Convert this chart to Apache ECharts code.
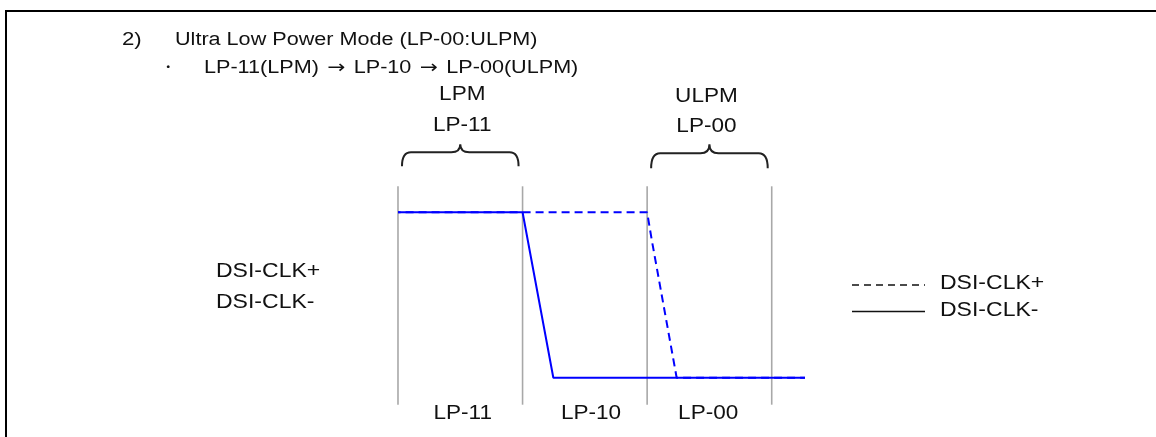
<!DOCTYPE html>
<html>
<head>
<meta charset="utf-8">
<script src="https://cdn.jsdelivr.net/npm/echarts@6/dist/echarts.min.js"></script>
<style>html,body{margin:0;padding:0;background:#fff}#c{width:1156px;height:437px}</style>
</head>
<body>
<div id="c"></div>
<script>
// ---- data ----
const stateBounds = [0, 1, 2, 3];
const regionLabelPos = [0.52, 1.55, 2.49];
const regionLabels = ['LP-11', 'LP-10', 'LP-00'];
const braceSpans = [[0, 1], [2, 3]];
const braceTitles = [['LPM', 'LP-11'], ['ULPM', 'LP-00']];
const clkPlus = [[0, 1], [1, 1], [2, 1], [2.037, 0.833], [2.237, 0], [3.267, 0]];
const clkMinus = [[0, 1], [1, 1], [1.247, 0], [3.267, 0]];
const seriesNames = ['DSI-CLK+', 'DSI-CLK-'];
const titleLines = ['2)', 'Ultra Low Power Mode (LP-00:ULPM)', '・'];
const sequenceSteps = ['LP-11(LPM)', 'LP-10', 'LP-00(ULPM)'];

const FONT = "'Liberation Sans', Arial, sans-serif";
const TXT = '#111';
const SX = 1.1;

const chart = echarts.init(document.getElementById('c'), null, {renderer: 'canvas'});

function txt(x, y, text, size, align, sx, rich) {
  const st = {text: text, fill: TXT, font: size + 'px ' + FONT, textAlign: align || 'left', textVerticalAlign: 'middle'};
  if (rich) st.rich = rich;
  return {type: 'text', x: x, y: y, scaleX: sx || SX, silent: true, style: st};
}

const arrowRich = {a: {fontFamily: 'DejaVu Sans', fontSize: 18, fill: TXT, padding: [0, 2, 0, 2]}};
const seqText = sequenceSteps.join(' {a|→} ');

const option = {
  animation: false,
  backgroundColor: '#fff',
  grid: {left: 335.7, top: 129.6, width: 498.3, height: 289.45},
  xAxis: {type: 'value', min: -0.5, max: 3.5, show: false, splitLine: {show: false}},
  yAxis: {type: 'value', min: -0.25, max: 1.5, show: false, splitLine: {show: false}},
  series: [
    {
      type: 'custom', name: 'bounds', z: 1, silent: true, clip: false,
      data: stateBounds.map(b => [b, 0]),
      encode: {x: 0, y: 1},
      renderItem: function (params, api) {
        const top = api.coord([api.value(0), 1]);
        const bot = api.coord([api.value(0), 0]);
        return {type: 'line', shape: {x1: top[0], y1: top[1] - 26, x2: bot[0], y2: bot[1] + 27},
          style: {stroke: '#a8a8a8', lineWidth: 1.6}};
      }
    },
    {
      type: 'custom', name: 'braces', z: 1, silent: true, clip: false,
      data: braceSpans.map(s => [s[0], s[1], 1]),
      encode: {x: [0, 1], y: 2},
      renderItem: function (params, api) {
        const a = api.coord([api.value(0), 1]);
        const b = api.coord([api.value(1), 1]);
        const i = params.dataIndex;
        const x0 = a[0] + 4, x1 = b[0] - 4, xc = (x0 + x1) / 2;
        const yb = a[1] - 46 + i * 2, yh = a[1] - 60 + i * 1, yt = a[1] - 68;
        const r = 9;
        const path = 'M' + x0 + ' ' + yb +
          ' Q' + x0 + ' ' + yh + ' ' + (x0 + r) + ' ' + yh +
          ' L' + (xc - r) + ' ' + yh +
          ' Q' + xc + ' ' + yh + ' ' + xc + ' ' + yt +
          ' Q' + xc + ' ' + yh + ' ' + (xc + r) + ' ' + yh +
          ' L' + (x1 - r) + ' ' + yh +
          ' Q' + x1 + ' ' + yh + ' ' + x1 + ' ' + yb;
        const t = braceTitles[i];
        const tx = xc + (i === 0 ? 2 : -3);
        return {type: 'group', children: [
          {type: 'path', shape: {pathData: path}, style: {stroke: '#222', lineWidth: 2, fill: null}},
          txt(tx, yt - 50 + i * 2.5, t[0], 20.5, 'center'),
          txt(tx, yt - 19 + i * 1.5, t[1], 20.5, 'center')
        ]};
      }
    },
    {
      type: 'custom', name: 'regions', z: 1, silent: true, clip: false,
      data: regionLabelPos.map(c => [c, 0]),
      encode: {x: 0, y: 1},
      renderItem: function (params, api) {
        const p = api.coord([api.value(0), 0]);
        return txt(p[0], p[1] + 36, regionLabels[params.dataIndex], 20.5, 'center');
      }
    },
    {
      type: 'line', name: seriesNames[0], z: 2, data: clkPlus, symbol: 'none', clip: false, silent: true,
      lineStyle: {color: '#0000ff', width: 2, type: [8, 5], dashOffset: 5.4}
    },
    {
      type: 'line', name: seriesNames[1], z: 3, data: clkMinus, symbol: 'none', clip: false, silent: true,
      lineStyle: {color: '#0000ff', width: 2, type: 'solid'}
    }
  ],
  graphic: [
    {type: 'line', silent: true, shape: {x1: 5, y1: 11, x2: 1156, y2: 11}, style: {stroke: '#000', lineWidth: 2}},
    {type: 'line', silent: true, shape: {x1: 6, y1: 10, x2: 6, y2: 437}, style: {stroke: '#000', lineWidth: 2}},
    txt(122, 40, titleLines[0], 18.5, 'left', 1.2),
    txt(175, 40, titleLines[1], 18, 'left', 1.2),
    txt(159, 68, titleLines[2], 18, 'left', 1.0),
    txt(204, 68, seqText, 18, 'left', 1.2, arrowRich),
    txt(216, 272, seriesNames[0], 19.5, 'left', 1.18),
    txt(216, 303, seriesNames[1], 19.5, 'left', 1.18),
    {type: 'line', silent: true, shape: {x1: 852, y1: 285, x2: 925, y2: 285}, style: {stroke: '#111', lineWidth: 1.6, lineDash: [7, 5]}},
    {type: 'line', silent: true, shape: {x1: 852, y1: 311.5, x2: 925, y2: 311.5}, style: {stroke: '#111', lineWidth: 1.6}},
    txt(940, 283.5, seriesNames[0], 19.5, 'left', 1.18),
    txt(940, 311, seriesNames[1], 19.5, 'left', 1.18)
  ]
};
chart.setOption(option);
</script>
</body>
</html>
